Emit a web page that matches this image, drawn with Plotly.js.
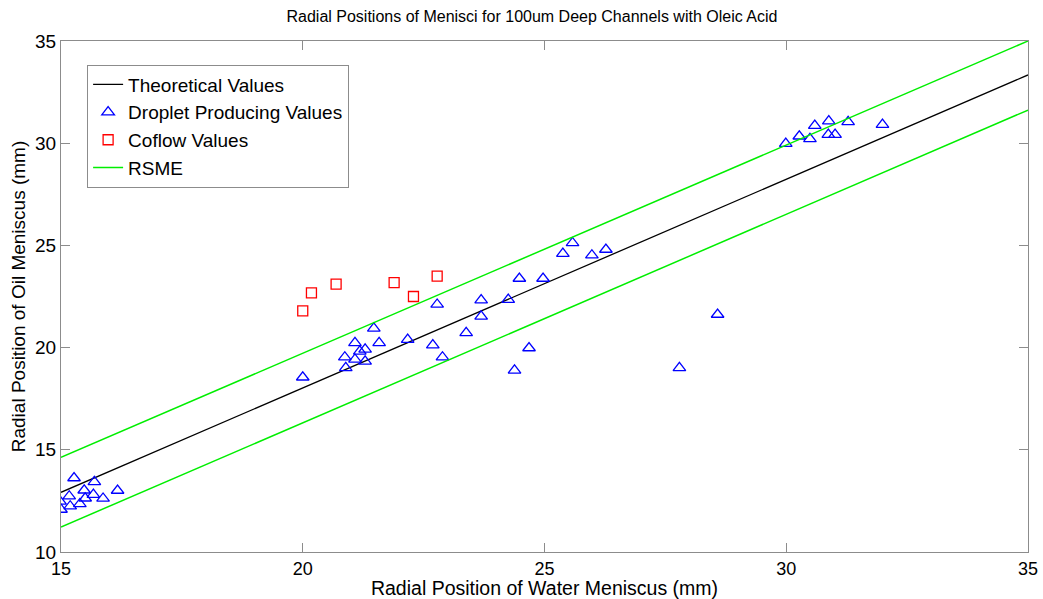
<!DOCTYPE html>
<html>
<head>
<meta charset="utf-8">
<script src="https://cdn.plot.ly/plotly-3.0.1.min.js"></script>
<style>html,body{margin:0;padding:0;background:#fff;}#chart{width:1043px;height:599px;}</style>
</head>
<body>
<div id="chart"></div>
<script>
// Theoretical line and RSME bounds
const theoX = [15, 35];
const theoY = [12.92, 33.34];
const rsmeUpperY = [14.63, 35.0];
const rsmeLowerY = [11.22, 31.62];

// Droplet producing values
const dropX = [15.27, 15.69, 15.17, 15.48, 14.98, 15.67, 16.17, 15.19, 15.0, 15.39, 15.50, 15.87,
  20.0, 21.47, 21.08, 21.58, 21.29, 21.18, 20.87, 21.08, 21.29, 20.89, 22.17, 22.69, 22.89, 22.78,
  23.38, 23.69, 23.69, 24.25, 25.58, 25.38, 25.98, 26.27, 24.48, 24.97, 24.68, 24.38,
  28.58, 27.79,
  29.99, 30.27, 30.49, 30.59, 30.88, 30.87, 31.01, 31.28, 31.99];
const dropY = [13.62, 13.43, 12.73, 13.02, 12.48, 12.81, 13.01, 12.24, 12.08, 12.35, 12.63, 12.62,
  18.55, 20.94, 20.23, 20.23, 19.91, 19.82, 19.53, 19.42, 19.33, 19.01, 20.39, 20.12, 19.53, 22.11,
  20.72, 22.32, 21.53, 22.35, 25.12, 24.60, 24.52, 24.80, 23.38, 23.38, 19.98, 18.89,
  21.62, 19.01,
  29.98, 30.34, 30.21, 30.86, 31.08, 30.42, 30.42, 31.04, 30.91];

// Coflow values
const coflowX = [20.0, 20.18, 20.69, 21.89, 22.29, 22.78];
const coflowY = [21.80, 22.68, 23.11, 23.18, 22.50, 23.50];

const traces = [
  {x: theoX, y: theoY, mode: 'lines', name: 'Theoretical Values',
   line: {color: '#000000', width: 1.3}},
  {x: dropX, y: dropY, mode: 'markers', name: 'Droplet Producing Values',
   marker: {symbol: 'triangle-up-open', color: '#0000ff', size: 11, line: {width: 1.3}}},
  {x: coflowX, y: coflowY, mode: 'markers', name: 'Coflow Values',
   marker: {symbol: 'square-open', color: '#ff0000', size: 10, line: {width: 1.3}}},
  {x: theoX, y: rsmeUpperY, mode: 'lines', name: 'RSME',
   line: {color: '#00ee00', width: 1.5}},
  {x: theoX, y: rsmeLowerY, mode: 'lines', name: 'RSME', showlegend: false,
   line: {color: '#00ee00', width: 1.5}}
];

const axisCommon = {
  showgrid: false, zeroline: false, showline: true, mirror: 'ticks',
  linecolor: '#8c8c8c', linewidth: 1, ticks: 'inside', ticklen: 9, tickcolor: '#8c8c8c',
  tickfont: {family: 'Arial, Liberation Sans, sans-serif', size: 19, color: '#000'}
};

const layout = {
  width: 1043, height: 599,
  margin: {l: 61, r: 15, t: 41, b: 47},
  paper_bgcolor: '#fff', plot_bgcolor: '#fff',
  font: {family: 'Arial, Liberation Sans, sans-serif', color: '#000'},
  title: {text: 'Radial Positions of Menisci for 100um Deep Channels with Oleic Acid',
    font: {size: 16, color: '#000'}, x: 0.51, xanchor: 'center', y: 0.973, yanchor: 'middle'},
  xaxis: Object.assign({}, axisCommon, {range: [15, 35], tickvals: [15, 20, 25, 30, 35], ticktext: ['15','20','25','30','35'],
    tickfont: {family: 'Arial, Liberation Sans, sans-serif', size: 18, color: '#000'},
    title: {text: 'Radial Position of Water Meniscus (mm)', font: {size: 19.5, color: '#000'}, standoff: 5}}),
  yaxis: Object.assign({}, axisCommon, {range: [10, 35], tickvals: [10, 15, 20, 25, 30, 35], ticktext: ['10','15','20','25','30','35'],
    title: {text: 'Radial Position of Oil Meniscus (mm)', font: {size: 19, color: '#000'}, standoff: 4}}),
  legend: {x: 0.027, y: 0.954, xanchor: 'left', yanchor: 'top', bgcolor: '#fff',
    bordercolor: '#8c8c8c', borderwidth: 1, font: {size: 19, color: '#000'}, tracegroupgap: 0},
  showlegend: true
};

Plotly.newPlot('chart', traces, layout, {displayModeBar: false, staticPlot: true});
</script>
</body>
</html>
